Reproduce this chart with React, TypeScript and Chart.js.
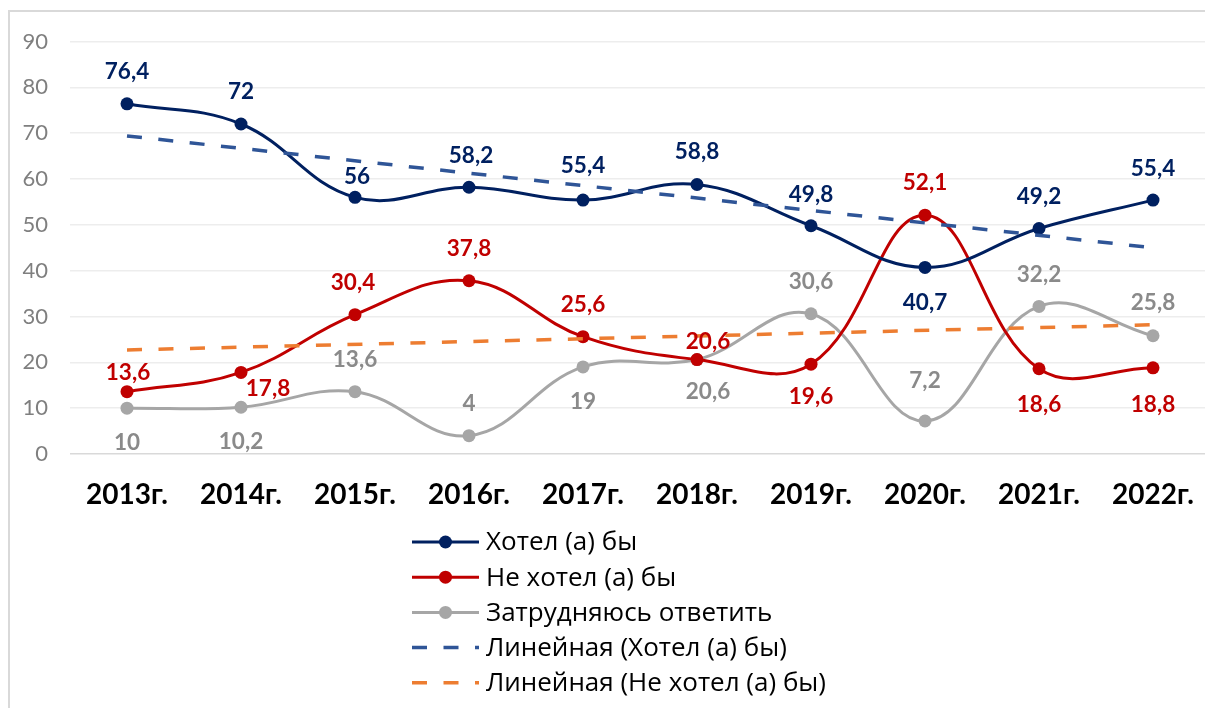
import React, { useEffect, useRef } from 'react';
import { Chart, registerables } from 'chart.js';

Chart.register(...registerables);

// ---- data ----
const years = ['2013г.', '2014г.', '2015г.', '2016г.', '2017г.', '2018г.', '2019г.', '2020г.', '2021г.', '2022г.'];
const hotel = [76.4, 72, 56, 58.2, 55.4, 58.8, 49.8, 40.7, 49.2, 55.4];
const neHotel = [13.6, 17.8, 30.4, 37.8, 25.6, 20.6, 19.6, 52.1, 18.6, 18.8];
const zatrud = [10, 10.2, 13.6, 4, 19, 20.6, 30.6, 7.2, 32.2, 25.8];
// trendline ends (2013 and 2022)
const hotelTrendEnds = [69.4, 45.0];
const neHotelTrendEnds = [22.7, 28.2];
const seriesNames = [
  'Хотел (а) бы',
  'Не хотел (а) бы',
  'Затрудняюсь ответить',
  'Линейная (Хотел (а) бы)',
  'Линейная (Не хотел (а) бы)',
];
const yMin = 0;
const yMax = 90;
const yStep = 10;

// ---- styles ----
const FONT = 'Lato, "Noto Sans", sans-serif';
const LEGEND_FONT = '"Open Sans", "Noto Sans", sans-serif';
const BLUE = '#002060';
const RED = '#C00000';
const GRAY = '#A6A6A6';
const GRAY_TEXT = '#8A8A8A';
const BLUE_TREND = '#2F5597';
const ORANGE = '#ED7D31';

const labelColors = [BLUE, RED, GRAY_TEXT];
// label centre offsets (dx, dy) from each point
const labelOffsets: number[][][] = [
  [[0, -32], [0, -32], [2, -21], [2, -32], [0, -34], [0, -33], [0, -31], [0, 35], [0, -32], [0, -31]],
  [[1, -19], [27, 16], [-2, -32], [0, -32], [0, -32], [11, -18], [0, 33], [0, -32], [0, 36], [0, 37]],
  [[0, 35], [0, 34], [0, -32], [0, -32], [0, 35], [11, 32], [0, -32], [0, -40], [0, -32], [0, -33]],
];

const trendData = (ends: number[]) =>
  years.map((_, i) => (i === 0 ? ends[0] : i === years.length - 1 ? ends[1] : null));

const fmt = (v: number) => String(v).replace('.', ',');

const dataLabelPlugin = {
  id: 'dataLabels',
  afterDatasetsDraw(chart: any) {
    const ctx = chart.ctx;
    ctx.save();
    ctx.font = `bold 22.5px ${FONT}`;
    ctx.textAlign = 'center';
    ctx.textBaseline = 'middle';
    for (let d = 0; d < 3; d++) {
      const meta = chart.getDatasetMeta(d);
      const ds = chart.data.datasets[d];
      ctx.fillStyle = labelColors[d];
      meta.data.forEach((pt: any, i: number) => {
        const [dx, dy] = labelOffsets[d][i];
        ctx.fillText(fmt(ds.data[i]), pt.x + dx, pt.y + dy);
      });
    }
    ctx.restore();
  },
};

const legendPlugin = {
  id: 'vertLegend',
  afterDraw(chart: any) {
    const ctx = chart.ctx;
    const x1 = 402;
    const x2 = 469;
    const textX = 476;
    const top = 530;
    const step = 35.2;
    ctx.save();
    chart.data.datasets.forEach((ds: any, i: number) => {
      const y = top + i * step;
      ctx.strokeStyle = ds.borderColor;
      ctx.lineWidth = ds.borderWidth;
      ctx.setLineDash(ds.borderDash || []);
      ctx.beginPath();
      ctx.moveTo(x1, y);
      ctx.lineTo(x2, y);
      ctx.stroke();
      ctx.setLineDash([]);
      if (ds.pointRadius > 0) {
        ctx.fillStyle = ds.pointBackgroundColor;
        ctx.beginPath();
        ctx.arc((x1 + x2) / 2, y, 6.5, 0, Math.PI * 2);
        ctx.fill();
      }
      ctx.fillStyle = '#000';
      ctx.font = `26px ${LEGEND_FONT}`;
      ctx.textAlign = 'left';
      ctx.textBaseline = 'middle';
      ctx.fillText(ds.label, textX, y + 1);
    });
    ctx.restore();
  },
};

export default function App() {
  const ref = useRef<HTMLCanvasElement | null>(null);

  useEffect(() => {
    if (!ref.current) return;
    const lineDs = (label: string, data: number[], color: string) => ({
      label,
      data,
      borderColor: color,
      backgroundColor: color,
      pointBackgroundColor: color,
      pointBorderColor: color,
      borderWidth: 3,
      pointRadius: 6.5,
      pointBorderWidth: 0,
      tension: 0.4,
      fill: false,
      order: 1,
    });
    const trendDs = (label: string, data: (number | null)[], color: string) => ({
      label,
      data,
      borderColor: color,
      backgroundColor: color,
      pointBackgroundColor: color,
      borderWidth: 3.5,
      borderDash: [15, 16.5],
      pointRadius: 0,
      spanGaps: true,
      tension: 0,
      fill: false,
      order: 0,
    });

    const chart = new Chart(ref.current, {
      type: 'line',
      data: {
        labels: years,
        datasets: [
          lineDs(seriesNames[0], hotel, BLUE),
          lineDs(seriesNames[1], neHotel, RED),
          lineDs(seriesNames[2], zatrud, GRAY),
          trendDs(seriesNames[3], trendData(hotelTrendEnds), BLUE_TREND),
          trendDs(seriesNames[4], trendData(neHotelTrendEnds), ORANGE),
        ] as any,
      },
      options: {
        responsive: false,
        animation: false,
        devicePixelRatio: 1,
        layout: { padding: { left: 0, top: 29.5, right: 15, bottom: 198 } },
        plugins: {
          legend: { display: false },
          tooltip: { enabled: false },
        },
        scales: {
          x: {
            offset: true,
            grid: { display: false, drawTicks: false },
            border: { display: false },
            ticks: {
              color: '#000',
              font: { family: FONT, size: 28, weight: 'bold' },
              padding: 24,
              maxRotation: 0,
              autoSkip: false,
            },
            afterFit(scale: any) {
              scale.height = 60;
            },
          },
          y: {
            min: yMin,
            max: yMax,
            grid: {
              drawTicks: false,
              color: (c: any) => (c.tick && c.tick.value === 0 ? '#D9D9D9' : '#EDEDED'),
              lineWidth: 1.5,
            },
            border: { display: false },
            ticks: {
              stepSize: yStep,
              color: '#7F7F7F',
              font: { family: FONT, size: 22 },
              padding: 22,
            },
            afterFit(scale: any) {
              scale.width = 60;
              scale.paddingTop = 0;
              scale.paddingBottom = 0;
            },
          },
        },
      },
      plugins: [dataLabelPlugin, legendPlugin],
    });
    return () => chart.destroy();
  }, []);

  return (
    <div style={{ position: 'fixed', left: 0, top: 0, width: 1205, height: 708, overflow: 'hidden', background: '#fff' }}>
      <div
        style={{
          position: 'absolute',
          left: 8,
          top: 10,
          width: 1215,
          height: 720,
          borderLeft: '2px solid #D9D9D9',
          borderTop: '2px solid #D9D9D9',
        }}
      >
        <canvas ref={ref} width={1215} height={700} style={{ display: 'block' }} />
      </div>
    </div>
  );
}
